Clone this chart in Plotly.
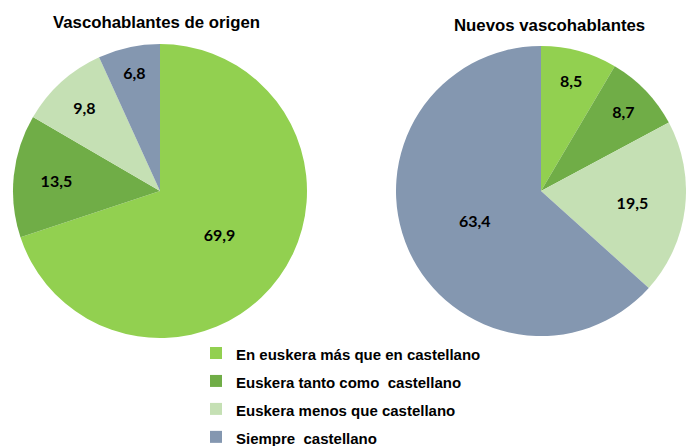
import plotly.graph_objects as go

categories = [
    "En euskera más que en castellano",
    "Euskera tanto como  castellano",
    "Euskera menos que castellano",
    "Siempre  castellano",
]
origen_values = [69.9, 13.5, 9.8, 6.8]
nuevos_values = [8.5, 8.7, 19.5, 63.4]
titles = ["Vascohablantes de origen", "Nuevos vascohablantes"]
colors = ["#92D050", "#70AD47", "#C5E0B4", "#8497B0"]

W, H = 686, 446
legend_labels = ["<span style='font-size:15px'>%s</span>" % c for c in categories]

def dom(cx, cy, r):
    return dict(x=[max(0, (cx - r) / W), min(1, (cx + r) / W)],
                y=[(H - cy - r) / H, (H - cy + r) / H])

common = dict(
    labels=legend_labels, sort=False, direction="clockwise", rotation=0,
    marker=dict(colors=colors, line=dict(width=0)),
    textposition="inside", insidetextorientation="horizontal",
    texttemplate="%{value:.1f}",
    textfont=dict(family="Lato", size=16, color="black", weight="bold"),
    hoverinfo="label+value",
)

fig = go.Figure()
fig.add_trace(go.Pie(values=origen_values, domain=dom(160, 191, 147), name=titles[0], **common))
fig.add_trace(go.Pie(values=nuevos_values, domain=dom(543, 191, 147), name=titles[1], showlegend=False, **common))

fig.add_annotation(text="<b>%s</b>" % titles[0], x=156 / W, y=1 - 22 / H, xref="paper", yref="paper",
                   xanchor="center", yanchor="middle",
                   showarrow=False, font=dict(family="Liberation Sans", size=16.8, color="black"))
fig.add_annotation(text="<b>%s</b>" % titles[1], x=549 / W, y=1 - 25 / H, xref="paper", yref="paper",
                   xanchor="center", yanchor="middle",
                   showarrow=False, font=dict(family="Liberation Sans", size=16.8, color="black"))

fig.update_layout(
    width=W, height=H, margin=dict(l=0, r=0, t=0, b=0, autoexpand=False),
    paper_bgcolor="white", plot_bgcolor="white",
    separators=",.",
    legend=dict(x=196 / W, xanchor="left", y=1 - 334 / H, yanchor="top",
                font=dict(family="Liberation Sans", size=19.2, color="black", weight="bold"),
                bgcolor="rgba(0,0,0,0)"),
)
fig.write_html("out.html", config={"displayModeBar": False},
               post_script="document.body.style.margin='0';document.body.style.overflow='hidden';")
